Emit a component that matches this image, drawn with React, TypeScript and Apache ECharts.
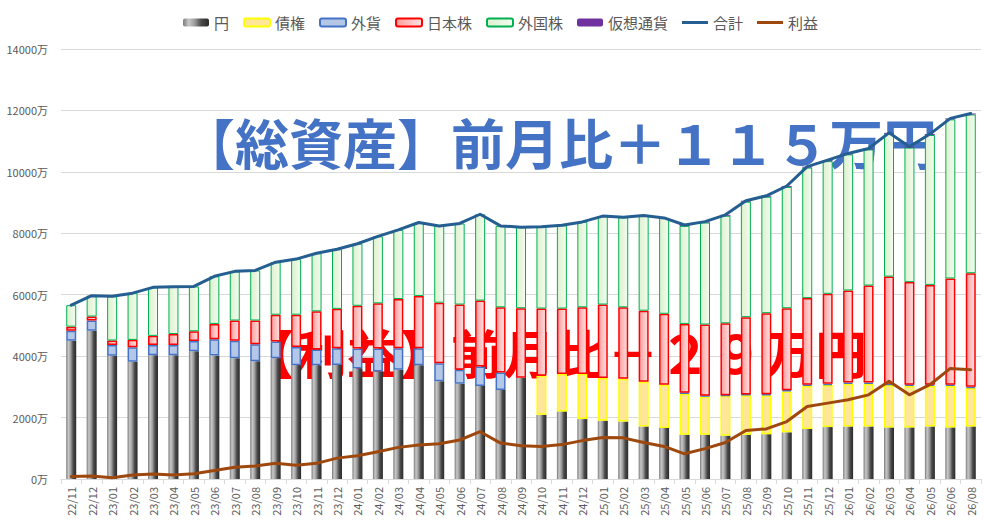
import React, { useEffect, useRef } from 'react';
import * as echarts from 'echarts';

const categories = [
  '22/11', '22/12',
  '23/01', '23/02', '23/03', '23/04', '23/05', '23/06', '23/07', '23/08', '23/09', '23/10', '23/11', '23/12',
  '24/01', '24/02', '24/03', '24/04', '24/05', '24/06', '24/07', '24/08', '24/09', '24/10', '24/11', '24/12',
  '25/01', '25/02', '25/03', '25/04', '25/05', '25/06', '25/07', '25/08', '25/09', '25/10', '25/11', '25/12',
  '26/01', '26/02', '26/03', '26/04', '26/05', '26/06', '26/08',
];

const yen = [
  4500, 4830, 4010, 3820, 4030, 4030, 4160, 4020, 3930, 3830,
  3930, 3700, 3700, 3710, 3600, 3500, 3560, 3700, 3180, 3100,
  3030, 2900, 3300, 2090, 2200, 1950, 1900, 1870, 1710, 1660,
  1440, 1440, 1410, 1440, 1460, 1520, 1630, 1690, 1710, 1710,
  1680, 1680, 1710, 1680, 1710,
];

const bonds = [
  0, 0, 0, 0, 0, 0, 0, 0, 0, 0,
  0, 0, 0, 0, 0, 0, 0, 0, 0, 0,
  0, 0, 0, 1270, 1220, 1470, 1390, 1390, 1460, 1410,
  1335, 1250, 1300, 1290, 1270, 1330, 1400, 1370, 1390, 1390,
  1380, 1350, 1320, 1350, 1250,
];

const fx = [
  330, 330, 350, 470, 330, 330, 330, 530, 570, 560,
  550, 600, 520, 550, 650, 750, 700, 560, 590, 460,
  630, 570, 0, 0, 0, 0, 0, 0, 0, 0,
  30, 20, 20, 20, 30, 40, 40, 40, 40, 40,
  40, 40, 40, 40, 40,
];

const jpStocks = [
  130, 130, 150, 240, 300, 360, 320, 500, 660, 770,
  870, 1050, 1240, 1280, 1390, 1470, 1600, 1700, 1970, 2120,
  2150, 2120, 2260, 2190, 2130, 2170, 2390, 2330, 2310, 2310,
  2245, 2320, 2340, 2520, 2640, 2670, 2820, 2930, 3000, 3160,
  3490, 3340, 3250, 3460, 3700,
];

const foreignStocks = [
  700, 680, 1440, 1520, 1580, 1540, 1460, 1550, 1600, 1630,
  1710, 1810, 1890, 1940, 2020, 2180, 2250, 2390, 2500, 2640,
  2810, 2650, 2640, 2660, 2710, 2780, 2880, 2930, 3100, 3120,
  3190, 3320, 3500, 3760, 3790, 3950, 4250, 4320, 4430, 4430,
  4650, 4380, 4880, 5180, 5170,
];

const crypto = [
  0, 0, 0, 0, 0, 0, 0, 0, 0, 0,
  0, 0, 0, 0, 0, 0, 0, 0, 0, 0,
  0, 0, 0, 0, 0, 0, 0, 0, 0, 0,
  30, 30, 30, 30, 30, 30, 30, 30, 30, 30,
  30, 30, 30, 30, 30,
];

const total = [
  5660, 5970, 5950, 6050, 6240, 6260, 6270, 6600, 6760, 6790,
  7060, 7160, 7350, 7480, 7660, 7900, 8110, 8350, 8240, 8320,
  8620, 8240, 8200, 8210, 8260, 8370, 8560, 8520, 8580, 8500,
  8270, 8380, 8600, 9060, 9220, 9540, 10170, 10380, 10600, 10760,
  11270, 10820, 11230, 11740, 11900,
];

const profit = [
  80, 100, 40, 130, 160, 130, 170, 280, 380, 420,
  510, 450, 510, 680, 760, 890, 1030, 1110, 1150, 1270,
  1540, 1170, 1080, 1060, 1120, 1250, 1350, 1340, 1190, 1060,
  820, 990, 1190, 1580, 1630, 1870, 2360, 2470, 2580, 2740,
  3180, 2740, 3070, 3600, 3560,
];

const legendNames = ['円', '債権', '外貨', '日本株', '外国株', '仮想通貨', '合計', '利益'];

const yTicks = { min: 0, max: 14000, interval: 2000 };

const titleAssets = '【総資産】前月比＋１１５万円';
const titleProfit = '【利益】前月比－２９万円';

const FONT = '"Noto Sans CJK JP", "Noto Sans", sans-serif';
const LINE_ICON = 'path://M0,0L26,0L26,3L0,3Z';

const nz = (arr: number[]) => arr.map((v) => (v === 0 ? null : v));

export default function App() {
  const ref = useRef<HTMLDivElement>(null);

  useEffect(() => {
    if (!ref.current) return;
    const chart = echarts.init(ref.current, null, { renderer: 'svg' });
    const barW = 10;

    const yenGrad = new echarts.graphic.LinearGradient(0, 0, 1, 0, [
      { offset: 0, color: '#7a7a7a' },
      { offset: 0.22, color: '#c8c8c8' },
      { offset: 0.45, color: '#9c9c9c' },
      { offset: 0.7, color: '#4a4a4a' },
      { offset: 1, color: '#2a2a2a' },
    ]);
    const jpGrad = new echarts.graphic.LinearGradient(0, 0, 1, 0, [
      { offset: 0, color: '#ff9c9c' },
      { offset: 1, color: '#ffe2e2' },
    ]);
    const fgGrad = new echarts.graphic.LinearGradient(0, 0, 1, 0, [
      { offset: 0, color: '#dcf2cf' },
      { offset: 1, color: '#f3fbee' },
    ]);

    const option = {
      animation: false,
      backgroundColor: '#ffffff',
      textStyle: { fontFamily: FONT },
      legend: {
        left: 178,
        top: 10,
        itemWidth: 26,
        itemHeight: 8,
        itemGap: 14,
        textStyle: { fontSize: 15, color: '#595959', fontFamily: FONT },
        data: legendNames.map((n) =>
          n === '合計' || n === '利益' ? { name: n, icon: LINE_ICON } : { name: n }
        ),
      },
      grid: { left: 61, right: 3, top: 49, bottom: 41 },
      xAxis: {
        type: 'category',
        data: categories,
        axisLine: { lineStyle: { color: '#d9d9d9' } },
        axisTick: { show: true, length: 5, lineStyle: { color: '#d9d9d9' } },
        axisLabel: { rotate: 90, fontSize: 11, color: '#595959', margin: 8, interval: 0, fontFamily: FONT },
      },
      yAxis: {
        type: 'value',
        min: yTicks.min,
        max: yTicks.max,
        interval: yTicks.interval,
        axisLine: { show: false },
        axisTick: { show: false },
        axisLabel: {
          formatter: (v: number) => `${v}万`,
          fontSize: 11,
          color: '#595959',
          margin: 13,
          fontFamily: FONT,
        },
        splitLine: { lineStyle: { color: '#d9d9d9', width: 1 } },
      },
      graphic: [
        {
          type: 'text',
          z: 1,
          x: 181,
          y: 141,
          style: {
            text: titleAssets,
            fontSize: 54,
            fontWeight: 'bold',
            fontFamily: FONT,
            fill: '#4472C4',
            align: 'left',
            verticalAlign: 'middle',
          },
        },
        {
          type: 'text',
          z: 1,
          x: 243,
          y: 351,
          style: {
            text: titleProfit,
            fontSize: 52,
            fontWeight: 'bold',
            fontFamily: FONT,
            fill: '#FF0000',
            align: 'left',
            verticalAlign: 'middle',
          },
        },
      ],
      series: [
        {
          name: '円',
          type: 'bar',
          stack: 'assets',
          barWidth: barW,
          z: 2,
          itemStyle: { color: yenGrad },
          data: nz(yen),
        },
        {
          name: '債権',
          type: 'bar',
          stack: 'assets',
          barWidth: barW,
          z: 2,
          itemStyle: { color: '#FFE699', borderColor: '#FFFF00', borderWidth: 1.5 },
          data: nz(bonds),
        },
        {
          name: '外貨',
          type: 'bar',
          stack: 'assets',
          barWidth: barW,
          z: 2,
          itemStyle: { color: '#B4C7E7', borderColor: '#4472C4', borderWidth: 1.5 },
          data: nz(fx),
        },
        {
          name: '日本株',
          type: 'bar',
          stack: 'assets',
          barWidth: barW,
          z: 2,
          itemStyle: { color: jpGrad, borderColor: '#FF0000', borderWidth: 1.5 },
          data: nz(jpStocks),
        },
        {
          name: '外国株',
          type: 'bar',
          stack: 'assets',
          barWidth: barW,
          z: 2,
          itemStyle: { color: fgGrad, borderColor: '#00B050', borderWidth: 1 },
          data: nz(foreignStocks),
        },
        {
          name: '仮想通貨',
          type: 'bar',
          stack: 'assets',
          barWidth: barW,
          z: 2,
          itemStyle: { color: '#7030A0' },
          data: nz(crypto),
        },
        {
          name: '合計',
          type: 'line',
          z: 5,
          symbol: 'none',
          lineStyle: { color: '#255E91', width: 3, join: 'round', cap: 'round' },
          itemStyle: { color: '#255E91' },
          data: total,
        },
        {
          name: '利益',
          type: 'line',
          z: 5,
          symbol: 'none',
          lineStyle: { color: '#9E480E', width: 3, join: 'round', cap: 'round' },
          itemStyle: { color: '#9E480E' },
          data: profit,
        },
      ],
    };

    chart.setOption(option as any);
    return () => chart.dispose();
  }, []);

  return (
    <div
      ref={ref}
      style={{ position: 'fixed', left: 0, top: 0, width: 984, height: 520, background: '#fff' }}
    />
  );
}
